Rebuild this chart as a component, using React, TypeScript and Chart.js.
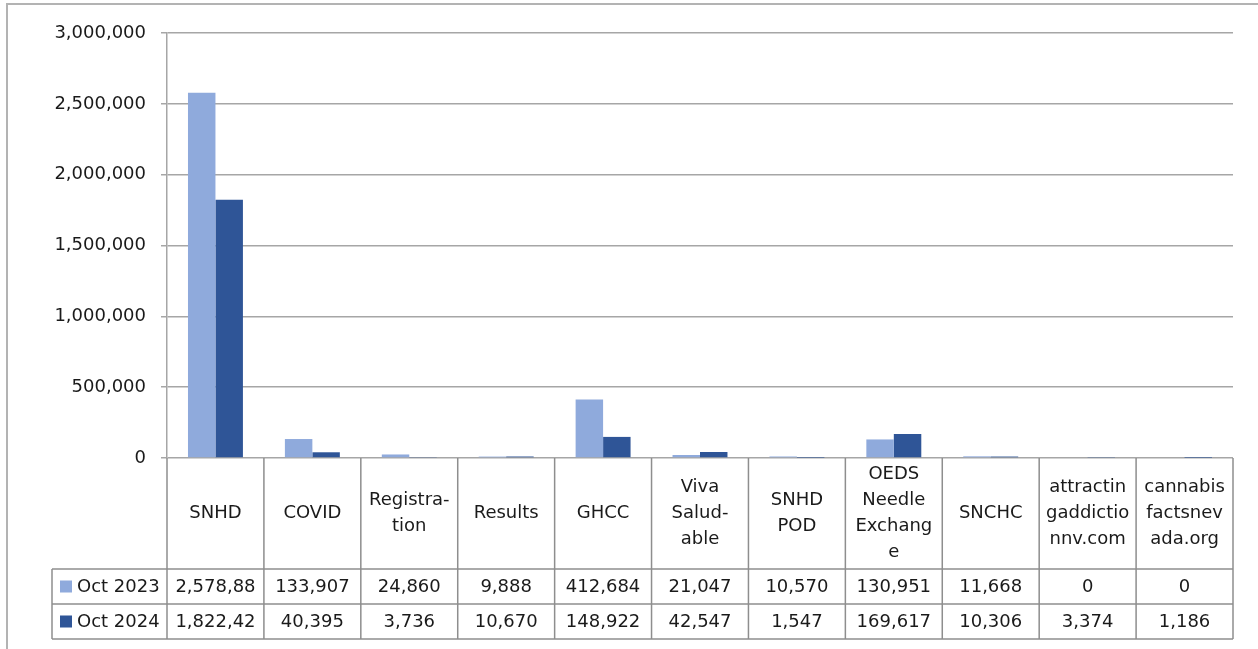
import { useEffect, useRef } from "react";
import { Chart, registerables } from "chart.js";

Chart.register(...registerables);

// ---- data ----
const categories: string[][] = [
  ["SNHD"],
  ["COVID"],
  ["Registra-", "tion"],
  ["Results"],
  ["GHCC"],
  ["Viva", "Salud-", "able"],
  ["SNHD", "POD"],
  ["OEDS", "Needle", "Exchang", "e"],
  ["SNCHC"],
  ["attractin", "gaddictio", "nnv.com"],
  ["cannabis", "factsnev", "ada.org"],
];
const seriesNames = ["Oct 2023", "Oct 2024"];
const oct2023 = [2578880, 133907, 24860, 9888, 412684, 21047, 10570, 130951, 11668, 0, 0];
const oct2024 = [1822420, 40395, 3736, 10670, 148922, 42547, 1547, 169617, 10306, 3374, 1186];
const seriesColors = ["#8FAADC", "#2F5597"];
const yMin = 0;
const yMax = 3000000;
const yStep = 500000;

const FONT = "'DejaVu Sans', sans-serif";
const TEXT = "#1a1a1a";

const fmt = (v: number) => v.toLocaleString("en-US");

const tablePlugin = {
  id: "dataTable",
  beforeDraw(chart: any) {
    const ctx = chart.ctx;
    ctx.save();
    ctx.fillStyle = "#ffffff";
    ctx.fillRect(0, 0, chart.width, chart.height);
    ctx.strokeStyle = "#b3b3b3";
    ctx.lineWidth = 2;
    ctx.strokeRect(7, 4, chart.width + 10, chart.height + 10);
    ctx.restore();
  },
  afterDraw(chart: any) {
    const ctx = chart.ctx;
    const ca = chart.chartArea;
    const n = categories.length;
    const colW = ca.width / n;
    const top = ca.bottom;
    const hb = top + 111;
    const r1 = hb + 35;
    const r2 = r1 + 35;
    const legLeft = 52;
    ctx.save();
    ctx.strokeStyle = "#8e8e8e";
    ctx.lineWidth = 1.5;
    ctx.beginPath();
    for (let i = 0; i <= n; i++) {
      const x = ca.left + i * colW;
      ctx.moveTo(x, top);
      ctx.lineTo(x, r2);
    }
    ctx.moveTo(legLeft, hb);
    ctx.lineTo(legLeft, r2);
    [hb, r1, r2].forEach((y) => {
      ctx.moveTo(legLeft, y);
      ctx.lineTo(ca.right, y);
    });
    ctx.stroke();

    ctx.fillStyle = TEXT;
    ctx.font = `18px ${FONT}`;
    ctx.textAlign = "center";
    ctx.textBaseline = "middle";
    const lh = 26;
    categories.forEach((lines, i) => {
      const cx = ca.left + (i + 0.5) * colW;
      const cy = (top + hb) / 2;
      const start = cy - ((lines.length - 1) * lh) / 2;
      lines.forEach((t, j) => ctx.fillText(t, cx, start + j * lh));
    });

    const rows = [oct2023, oct2024];
    const rowMid = [(hb + r1) / 2, (r1 + r2) / 2];
    rows.forEach((vals, r) => {
      // legend cell
      ctx.fillStyle = seriesColors[r];
      ctx.fillRect(60, rowMid[r] - 6, 12, 12);
      ctx.fillStyle = TEXT;
      ctx.textAlign = "left";
      ctx.fillText(seriesNames[r], 77, rowMid[r] + 1);
      ctx.textAlign = "center";
      vals.forEach((v, i) => {
        let s = fmt(v);
        const maxW = colW - 16;
        while (s.length > 1 && ctx.measureText(s).width > maxW) s = s.slice(0, -1);
        const cx = ca.left + (i + 0.5) * colW;
        ctx.fillText(s, cx, rowMid[r] + 1);
      });
    });
    ctx.restore();
  },
};

export default function App() {
  const ref = useRef<HTMLCanvasElement>(null);
  useEffect(() => {
    if (!ref.current) return;
    const chart = new Chart(ref.current, {
      type: "bar",
      data: {
        labels: categories,
        datasets: [
          { label: seriesNames[0], data: oct2023, backgroundColor: seriesColors[0] },
          { label: seriesNames[1], data: oct2024, backgroundColor: seriesColors[1] },
        ],
      },
      options: {
        animation: false,
        responsive: false,
        layout: { padding: { left: 0, right: 25, top: 33, bottom: 191 } },
        datasets: { bar: { categoryPercentage: 0.567, barPercentage: 1 } },
        plugins: { legend: { display: false }, tooltip: { enabled: false } },
        scales: {
          x: { display: false },
          y: {
            min: yMin,
            max: yMax,
            afterFit: (s: any) => {
              s.width = 167;
            },
            ticks: {
              stepSize: yStep,
              padding: 15,
              color: TEXT,
              font: { family: FONT, size: 18 },
              callback: (v: any) => fmt(Number(v)),
            },
            grid: { color: "#a6a6a6", lineWidth: 1.5, tickLength: 6 },
            border: { display: true, color: "#a6a6a6", width: 1.5 },
          },
        },
      },
      plugins: [tablePlugin],
    });
    return () => chart.destroy();
  }, []);
  return (
    <div style={{ position: "fixed", left: 0, top: 0, width: 1258, height: 649 }}>
      <canvas ref={ref} width={1258} height={649} />
    </div>
  );
}
